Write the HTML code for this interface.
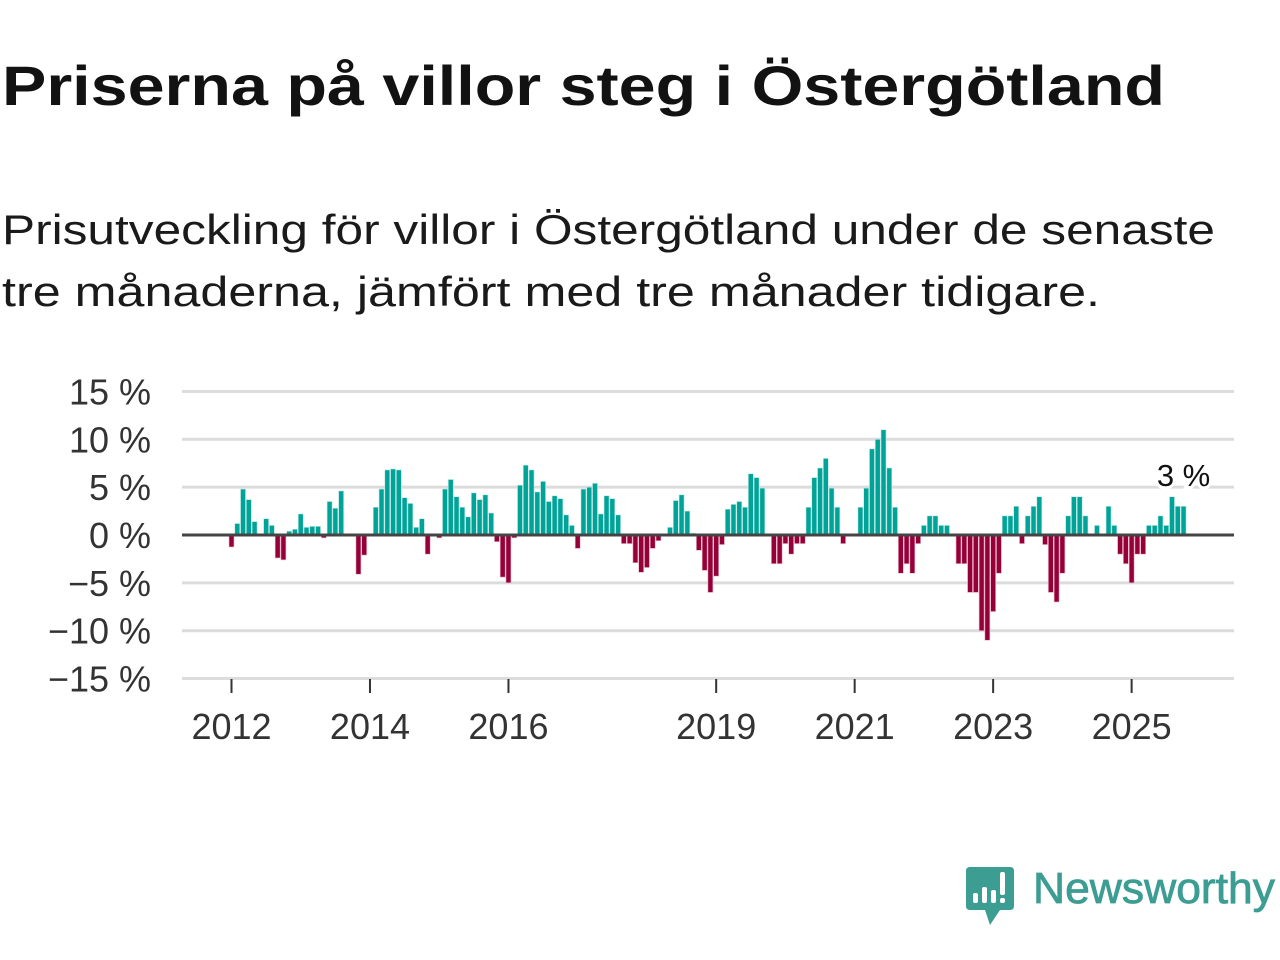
<!DOCTYPE html>
<html><head><meta charset="utf-8"><style>
html,body{margin:0;padding:0;background:#fff;}
svg{display:block;font-family:"Liberation Sans",sans-serif;}
</style></head><body>
<svg id="chart" width="1280" height="960" viewBox="0 0 1280 960">
<text x="2" y="105" font-size="56" font-weight="bold" fill="#121212" textLength="1163" lengthAdjust="spacingAndGlyphs">Priserna på villor steg i Östergötland</text>
<text x="2" y="244" font-size="42" fill="#1a1a1a" textLength="1213" lengthAdjust="spacingAndGlyphs">Prisutveckling för villor i Östergötland under de senaste</text>
<text x="2" y="306" font-size="42" fill="#1a1a1a" textLength="1098" lengthAdjust="spacingAndGlyphs">tre månaderna, jämfört med tre månader tidigare.</text>
<g id="grid"></g>
<g id="yaxis"></g>
<g id="xaxis"></g>
<g id="bars"></g>
<line id="zero" x1="182" x2="1234" stroke="#444" stroke-width="3"/>
<text id="lastlabel" font-size="31" fill="#111" text-anchor="middle" stroke="#fff" stroke-width="6" paint-order="stroke">3 %</text>
<g>
<path d="M970 867 H1010 Q1014 867 1014 871 V906 Q1014 910 1010 910 H1000 L990 925 L985 910 H970 Q966 910 966 906 V871 Q966 867 970 867 Z" fill="#3c9d92"/>
<rect x="973" y="893" width="5" height="10" rx="2" fill="#fff"/>
<rect x="982" y="887" width="5" height="16" rx="2" fill="#fff"/>
<rect x="991" y="890" width="5" height="13" rx="2" fill="#fff"/>
<rect x="1000" y="872" width="5" height="23" rx="2" fill="#fff"/>
<rect x="1000" y="898" width="5" height="5" rx="2" fill="#fff"/>
<text x="1033" y="903" font-size="44" fill="#3c9d92" stroke="#3c9d92" stroke-width="0.8" textLength="242" lengthAdjust="spacingAndGlyphs">Newsworthy</text>
</g>
</svg>
<script>
const yTicks = [15, 10, 5, 0, -5, -10, -15];
const yTickLabels = ["15 %", "10 %", "5 %", "0 %", "−5 %", "−10 %", "−15 %"];
const xTickYears = [2012, 2014, 2016, 2019, 2021, 2023, 2025];
const startYear = 2012;
const lastLabel = "3 %";
const values = [
-1.25,1.2,4.8,3.7,1.4,null,1.7,1.0,-2.4,-2.6,
0.4,0.6,2.2,0.8,0.9,0.9,-0.3,3.5,2.8,4.6,
null,null,-4.1,-2.1,null,2.9,4.8,6.8,6.9,6.8,
3.9,3.3,0.8,1.7,-2.0,null,-0.3,4.8,5.8,4.0,
2.9,1.9,4.4,3.7,4.2,2.3,-0.7,-4.4,-5.0,-0.3,
5.2,7.3,6.8,4.5,5.6,3.5,4.1,3.8,2.1,1.0,
-1.4,4.8,5.0,5.4,2.2,4.1,3.8,2.1,-0.9,-0.9,
-2.9,-3.9,-3.4,-1.4,-0.6,null,0.8,3.6,4.2,2.5,
0.2,-1.6,-3.7,-6.0,-4.3,-1.0,2.7,3.2,3.5,2.9,
6.4,6.0,4.9,null,-3.0,-3.0,-0.9,-2.0,-0.9,-0.9,
2.9,6.0,7.0,8.0,4.9,2.9,-0.9,null,null,2.9,
4.9,9.0,10.0,11.0,7.0,2.9,-4.0,-3.0,-4.0,-0.9,
1.0,2.0,2.0,1.0,1.0,null,-3.0,-3.0,-6.0,-6.0,
-10.0,-11.0,-8.0,-4.0,2.0,2.0,3.0,-0.9,2.0,3.0,
4.0,-1.0,-6.0,-7.0,-4.0,2.0,4.0,4.0,2.0,null,
1.0,null,3.0,1.0,-2.0,-3.0,-5.0,-2.0,-2.0,1.0,
1.0,2.0,1.0,4.0,3.0,3.0
];
const NS='http://www.w3.org/2000/svg';
const x0=231.5, monthW=5.77;
function xScale(i){return x0+i*monthW;}
function yScale(v){return 535 - v*9.57;}
function mk(tag,attrs){const e=document.createElementNS(NS,tag);for(const k in attrs)e.setAttribute(k,attrs[k]);return e;}
const grid=document.getElementById('grid'), yaxis=document.getElementById('yaxis'), xaxis=document.getElementById('xaxis'), bars=document.getElementById('bars');
yTicks.forEach((t,k)=>{
  const y=yScale(t);
  if(t!==0){const l=mk('line',{x1:182,x2:1234,y1:y,y2:y,stroke:'#dcdcdc','stroke-width':3});
  
  
  grid.appendChild(l);}
  const tx=mk('text',{x:151,y:y+13,'font-size':36,fill:'#333','text-anchor':'end'});
  tx.textContent=yTickLabels[k];
  
  
  yaxis.appendChild(tx);
});
xTickYears.forEach(yr=>{
  const x=xScale((yr-startYear)*12);
  const l=mk('line',{x1:x,x2:x,y1:679,y2:693,stroke:'#333','stroke-width':2});
  
  
  xaxis.appendChild(l);
  const tx=mk('text',{x:x,y:739,'font-size':36,fill:'#333','text-anchor':'middle'});
  tx.textContent=String(yr);
  
  
  xaxis.appendChild(tx);
});
const z=yScale(0);
values.forEach((v,i)=>{
  if(v===null)return;
  const y=yScale(v), x=xScale(i);
  const r=mk('rect',{x:x-2.5,y:Math.min(y,z),width:5,height:Math.abs(z-y),fill:v>=0?'#00a398':'#960038',stroke:v>=0?'#bfe8e4':'#e8b8c8','stroke-width':0.6});
  
  
  bars.appendChild(r);
});
const zl=document.getElementById('zero'); zl.setAttribute('y1',z); zl.setAttribute('y2',z);
const li=values.length-1;
const lab=document.getElementById('lastlabel');
lab.setAttribute('x',xScale(li));
lab.setAttribute('y',486);
lab.textContent=lastLabel;
</script>
</body></html>
